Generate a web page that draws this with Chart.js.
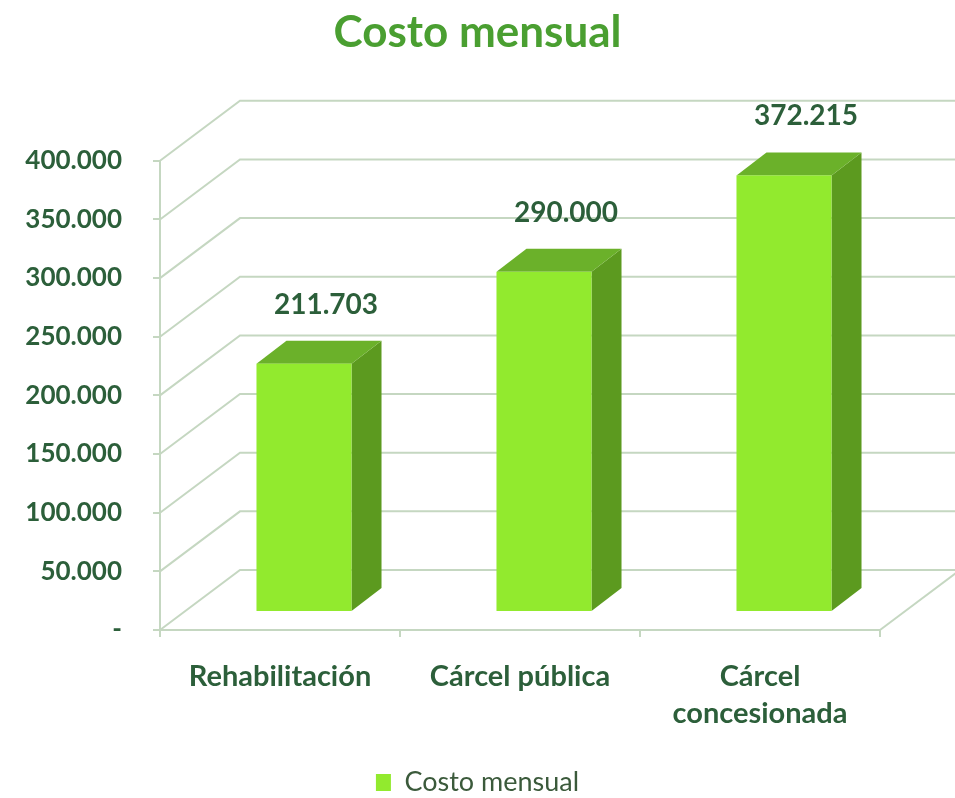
<!DOCTYPE html>
<html>
<head>
<meta charset="utf-8">
<script src="https://cdn.jsdelivr.net/npm/chart.js@4.4.1/dist/chart.umd.min.js"></script>
<style>
  html,body{ margin:0; padding:0; background:#fff; }
  #wrap{ width:955px; height:798px; }
</style>
</head>
<body>
<div id="wrap"><canvas id="costChart"></canvas></div>
<script>
const categorias = ['Rehabilitación', 'Cárcel pública', ['Cárcel', 'concesionada']];
const costoMensual = [211703, 290000, 372215];
const valorEtiquetas = ['211.703', '290.000', '372.215'];
const yTicks = [0, 50000, 100000, 150000, 200000, 250000, 300000, 350000, 400000];
const yTickLabels = ['-', '50.000', '100.000', '150.000', '200.000', '250.000', '300.000', '350.000', '400.000'];

const FONT = 'Lato, "DejaVu Sans", sans-serif';
const GRID = '#c5d7c1';
const TXT = '#2c5f3a';

/* 3d look: full depth of the floor, and where the boxes sit in it */
const DEPTH = { dx:80, dy:-60 };
const BOX_FRONT = { dx:24, dy:-18 };
const BOX_DEPTH = { dx:30, dy:-23 };

const walls3d = {
  id:'walls3d',
  beforeDatasetsDraw(chart){
    const {ctx, chartArea:a, scales:{y}} = chart;
    ctx.save();
    ctx.strokeStyle = GRID;
    ctx.lineWidth = 2;
    y.ticks.forEach(t => {
      const py = y.getPixelForValue(t.value);
      ctx.beginPath();
      ctx.moveTo(a.left, py);
      ctx.lineTo(a.left + DEPTH.dx, py + DEPTH.dy);
      ctx.lineTo(chart.width + 10, py + DEPTH.dy);
      ctx.stroke();
    });
    // right edge of the floor
    ctx.beginPath();
    ctx.moveTo(a.right, a.bottom);
    ctx.lineTo(a.right + DEPTH.dx, a.bottom + DEPTH.dy);
    ctx.stroke();

    // boxes
    const meta = chart.getDatasetMeta(0);
    meta.data.forEach(bar => {
      const l = bar.x - bar.width / 2 + BOX_FRONT.dx;
      const r = bar.x + bar.width / 2 + BOX_FRONT.dx;
      const t = bar.y + BOX_FRONT.dy;
      const b = bar.base + BOX_FRONT.dy;
      // side
      ctx.fillStyle = '#5c9a1f';
      ctx.beginPath();
      ctx.moveTo(r, t);
      ctx.lineTo(r + BOX_DEPTH.dx, t + BOX_DEPTH.dy);
      ctx.lineTo(r + BOX_DEPTH.dx, b + BOX_DEPTH.dy);
      ctx.lineTo(r, b);
      ctx.closePath();
      ctx.fill();
      // top
      ctx.fillStyle = '#6bb12a';
      ctx.beginPath();
      ctx.moveTo(l, t);
      ctx.lineTo(l + BOX_DEPTH.dx, t + BOX_DEPTH.dy);
      ctx.lineTo(r + BOX_DEPTH.dx, t + BOX_DEPTH.dy);
      ctx.lineTo(r, t);
      ctx.closePath();
      ctx.fill();
      // front
      ctx.fillStyle = '#92ea2e';
      ctx.fillRect(l, t, r - l, b - t);
    });
    ctx.restore();
    return false;
  },
  afterDraw(chart){
    const {ctx} = chart;
    const meta = chart.getDatasetMeta(0);
    ctx.save();
    ctx.fillStyle = TXT;
    ctx.font = 'bold 28px ' + FONT;
    ctx.textAlign = 'center';
    ctx.textBaseline = 'middle';
    meta.data.forEach((bar, i) => {
      ctx.fillText(valorEtiquetas[i], bar.x + 46, bar.y - 77);
    });
    ctx.restore();
  }
};

new Chart(document.getElementById('costChart'), {
  type:'bar',
  data:{
    labels: categorias,
    datasets:[{
      label:'Costo mensual',
      data: costoMensual,
      backgroundColor:'#92ea2e',
      categoryPercentage:1,
      barPercentage:0.396
    }]
  },
  options:{
    responsive:true,
    maintainAspectRatio:false,
    animation:false,
    layout:{ padding:{ left:0, right:0, top:0, bottom:-8 } },
    plugins:{
      title:{
        display:true,
        text:'Costo mensual',
        color:'#4a9f31',
        font:{ family:FONT, size:44, weight:'bold', lineHeight:1.2 },
        padding:{ top:6, bottom:102 }
      },
      legend:{
        position:'bottom',
        labels:{
          color:'#3b5a3b',
          font:{ family:FONT, size:27 },
          boxWidth:15,
          boxHeight:17,
          padding:10
        }
      },
      tooltip:{ enabled:false }
    },
    scales:{
      x:{
        afterFit: s => { s.height = 129; },
        grid:{ offset:true, drawOnChartArea:false, drawTicks:true, tickLength:7, color:GRID, lineWidth:2 },
        border:{ color:GRID, width:2 },
        ticks:{
          color:TXT,
          padding:22,
          maxRotation:0,
          font:{ family:FONT, size:29, weight:'bold', lineHeight:1.25 }
        }
      },
      y:{
        min:0,
        max:400000,
        afterFit: s => { s.width = 160; },
        afterBuildTicks: s => { s.ticks = yTicks.map(v => ({ value:v })); },
        grid:{ drawOnChartArea:false, drawTicks:true, tickLength:7, color:GRID, lineWidth:2 },
        border:{ color:GRID, width:2 },
        ticks:{
          color:TXT,
          padding:31,
          font:{ family:FONT, size:26, weight:'bold' },
          callback:(v, i) => yTickLabels[i]
        }
      },
      // empty room at the right, where the floor runs back
      yRight:{
        position:'right',
        afterFit: s => { s.width = 75; },
        grid:{ display:false },
        border:{ display:false },
        ticks:{ display:false }
      }
    }
  },
  plugins:[walls3d]
});
</script>
</body>
</html>
